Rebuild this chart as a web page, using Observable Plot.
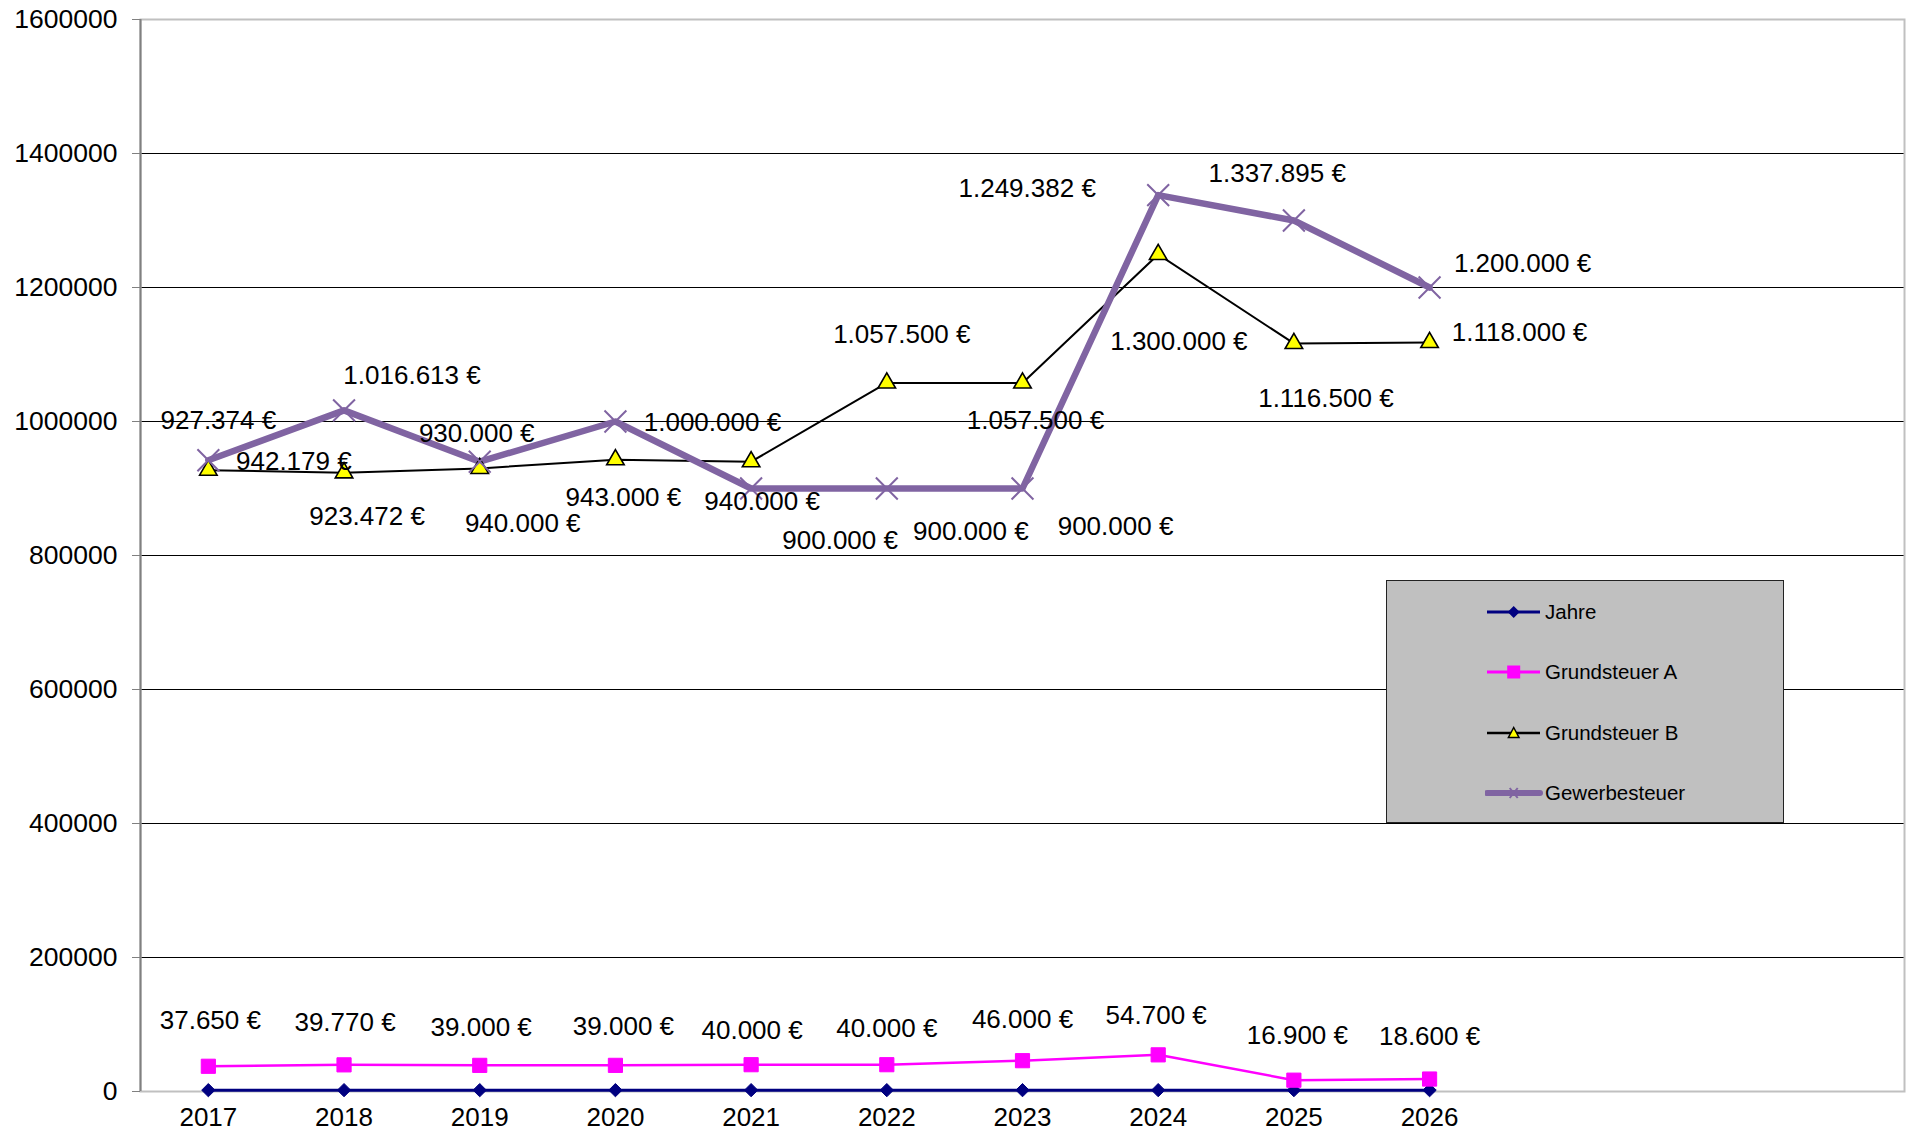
<!DOCTYPE html>
<html><head><meta charset="utf-8">
<script src="https://cdn.jsdelivr.net/npm/d3@7"></script>
<script src="https://cdn.jsdelivr.net/npm/@observablehq/plot@0.6"></script>
<style>
body{margin:0;background:#fff;font-family:"Liberation Sans",Arial,sans-serif;}
#wrap{position:relative;width:1908px;height:1132px;overflow:hidden;}
#legend{position:absolute;left:1386px;top:580px;width:396px;height:241px;background:#C0C0C0;border:1px solid #222;}
.lrow{position:absolute;left:0;height:30px;}
.lrow svg{position:absolute;left:98px;top:0;}
.lrow span{position:absolute;left:158px;top:3px;font-size:20.5px;line-height:24px;color:#000;white-space:nowrap;}
</style></head><body><div id="wrap"></div>
<script>
// ---- data ----
const years = [2017, 2018, 2019, 2020, 2021, 2022, 2023, 2024, 2025, 2026];
const jahre = [2017, 2018, 2019, 2020, 2021, 2022, 2023, 2024, 2025, 2026];
const grundsteuerA = [37650, 39770, 39000, 39000, 40000, 40000, 46000, 54700, 16900, 18600];
const grundsteuerB = [927374, 923472, 930000, 943000, 940000, 1057500, 1057500, 1249382, 1116500, 1118000];
const gewerbesteuer = [942179, 1016613, 940000, 1000000, 900000, 900000, 900000, 1337895, 1300000, 1200000];
const yTicks = [0, 200000, 400000, 600000, 800000, 1000000, 1200000, 1400000, 1600000];
const seriesNames = ["Jahre", "Grundsteuer A", "Grundsteuer B", "Gewerbesteuer"];

// ---- label nudges (pixels, layout only) ----
const offA = [[2,-46],[1,-42],[1.5,-38],[8,-39],[1,-34],[0,-36.5],[0,-41],[-2,-39],[3.5,-45],[0,-42]];
const offB = [[10,-49],[23,44],[-3,-35],[8,38],[11,40],[15,-48],[13,38],[-131,-66],[32,55],[90,-10]];
const offG = [[85.5,1],[68,-35],[43,62],[97,1],[89,52],[84,43],[93,38],[119,-21],[-115,121],[93,-23.5]];

const fmt = d3.formatLocale({decimal: ",", thousands: ".", grouping: [3], currency: ["", ""]}).format(",d");
const euro = v => fmt(v) + " €";
const rows = vals => years.map((yr, i) => ({year: yr, value: vals[i]}));

const labelMarks = (vals, offs) => vals.map((v, i) =>
  Plot.text([{year: years[i], value: v}], {
    x: "year", y: "value", text: d => euro(d.value),
    dx: offs[i][0], dy: offs[i][1], fontSize: 26, fill: "#000"
  }));

const colJ = "#000080", colA = "#FF00FF", colB = "#000000", colG = "#8064A2";

const chart = Plot.plot({
  width: 1908, height: 1132,
  marginLeft: 140, marginRight: 4, marginTop: 19, marginBottom: 41,
  style: {fontFamily: '"Liberation Sans", Arial, sans-serif', fontSize: "26px", background: "#fff", color: "#000", overflow: "visible"},
  x: {type: "linear", domain: [2016.5, 2029.5]},
  y: {domain: [0, 1600000]},
  marks: [
    Plot.ruleY(yTicks.filter(t => t > 0 && t < 1600000), {stroke: "#000", strokeWidth: 1}),
    Plot.frame({stroke: "#C0C0C0", strokeWidth: 2}),
    Plot.axisY({ticks: yTicks, tickFormat: d3.format("d"), tickSize: 8, tickPadding: 15, fontSize: 26.5, stroke: "#808080", label: null}),
    Plot.ruleX([2016.5], {stroke: "#808080", strokeWidth: 2}),
    Plot.axisX({ticks: years, tickFormat: d => String(d), tickSize: 0, tickPadding: 16, fontSize: 26, label: null}),
    Plot.line(rows(jahre), {x: "year", y: "value", stroke: colJ, strokeWidth: 3}),
    Plot.line(rows(grundsteuerA), {x: "year", y: "value", stroke: colA, strokeWidth: 2.5}),
    Plot.line(rows(grundsteuerB), {x: "year", y: "value", stroke: colB, strokeWidth: 2}),
    Plot.line(rows(gewerbesteuer), {x: "year", y: "value", stroke: colG, strokeWidth: 6.5, strokeLinejoin: "round"}),
    Plot.dot(rows(jahre), {x: "year", y: "value", symbol: "diamond2", r: 6, fill: colJ, stroke: colJ, strokeWidth: 1}),
    Plot.dot(rows(grundsteuerA), {x: "year", y: "value", symbol: "square", r: 8, fill: colA, stroke: colA, strokeWidth: 1}),
    Plot.dot(rows(grundsteuerB), {x: "year", y: "value", symbol: "triangle", r: 6.5, fill: "#FFFF00", stroke: "#000", strokeWidth: 1.6}),
    Plot.dot(rows(gewerbesteuer), {x: "year", y: "value", symbol: "times", r: 10, stroke: colG, strokeWidth: 2}),
    ...labelMarks(grundsteuerA, offA),
    ...labelMarks(grundsteuerB, offB),
    ...labelMarks(gewerbesteuer, offG)
  ]
});

const wrap = document.getElementById("wrap");
wrap.appendChild(chart);

// ---- legend ----
const legend = document.createElement("div");
legend.id = "legend";
const rowY = [30.7, 91, 152, 211.7];
const sym = [
  `<line x1="2" y1="15" x2="55" y2="15" stroke="${colJ}" stroke-width="3"/><path d="M28.7 9 L34.7 15 L28.7 21 L22.7 15 Z" fill="${colJ}"/>`,
  `<line x1="2" y1="15" x2="55" y2="15" stroke="${colA}" stroke-width="3"/><rect x="22.2" y="8.5" width="13" height="13" fill="${colA}"/>`,
  `<line x1="2" y1="15" x2="55" y2="15" stroke="#000" stroke-width="2.5"/><path d="M28.7 9.5 L34 19.5 L23.4 19.5 Z" fill="#FFFF00" stroke="#000" stroke-width="1.5"/>`,
  `<line x1="2" y1="15" x2="55" y2="15" stroke="${colG}" stroke-width="6" stroke-linecap="round"/><path d="M24.7 10 L32.7 20 M32.7 10 L24.7 20" stroke="${colG}" stroke-width="2"/>`
];
seriesNames.forEach((name, i) => {
  const r = document.createElement("div");
  r.className = "lrow";
  r.style.top = (rowY[i] - 15) + "px";
  r.innerHTML = `<svg width="60" height="30">${sym[i]}</svg><span>${name}</span>`;
  legend.appendChild(r);
});
wrap.appendChild(legend);
</script>
</body></html>
